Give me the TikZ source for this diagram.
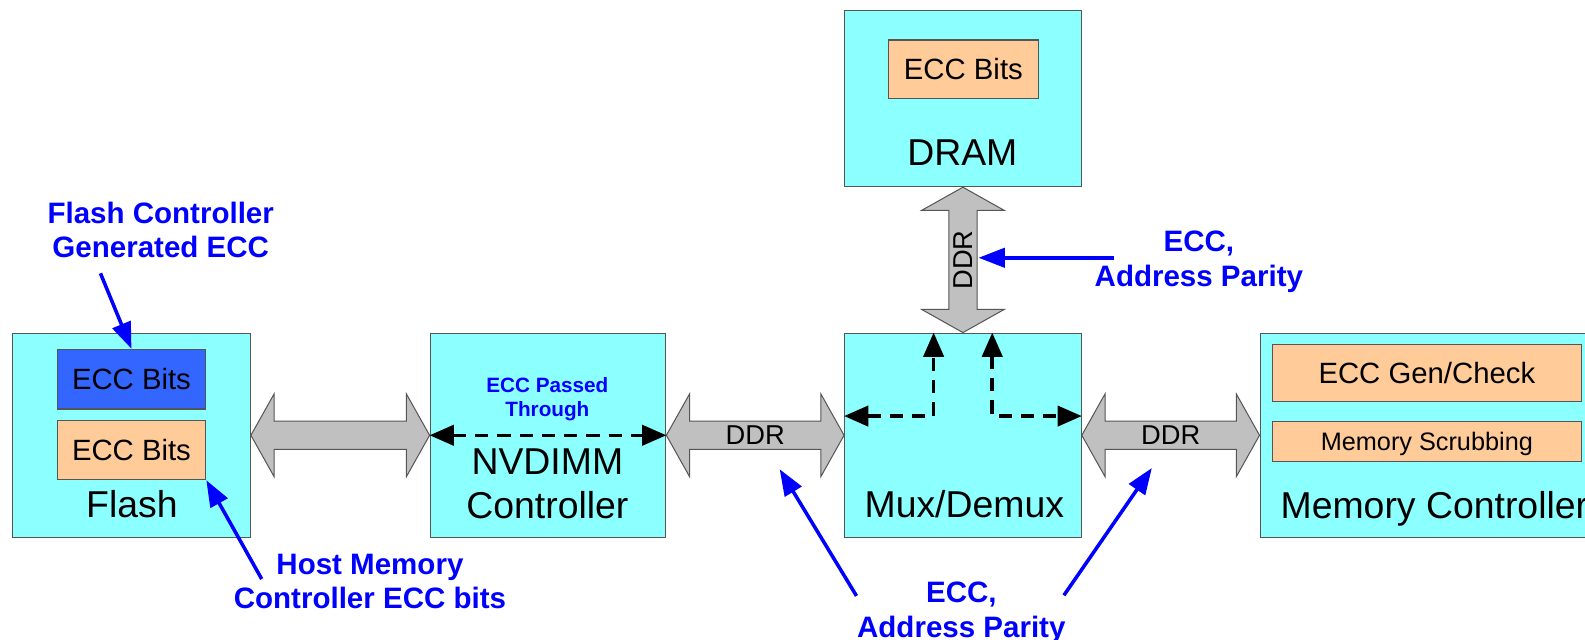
\documentclass[tikz,border=0pt]{standalone}
\usepackage{fontspec}
\setmainfont{Liberation Sans}
\usetikzlibrary{arrows.meta,calc}

\definecolor{boxcyan}{RGB}{140,255,255}
\definecolor{boxedge}{RGB}{85,85,85}
\definecolor{eccblue}{RGB}{51,102,255}
\definecolor{eccpeach}{RGB}{255,204,153}
\definecolor{busgray}{RGB}{192,192,192}
\definecolor{noteblue}{RGB}{0,0,255}

\newcommand\fBig{\fontsize{37}{43}\selectfont}
\newcommand\fMid{\fontsize{29}{34}\selectfont}
\newcommand\fSmall{\fontsize{25}{30}\selectfont}
\newcommand\fBus{\fontsize{27}{32}\selectfont}
\newcommand\fNote{\fontsize{29.2}{34}\selectfont\bfseries}
\newcommand\fTiny{\fontsize{20.5}{24}\selectfont\bfseries}

% horizontal fat double arrow between two nodes
\newcommand\busH[2]{%
  \path[bus] let \p1=(#1.east), \p2=(#2.west) in
    (\x1,\y1) -- (\x1+23pt,\y1+41pt) -- (\x1+23pt,\y1+14pt) --
    (\x2-23pt,\y1+14pt) -- (\x2-23pt,\y1+41pt) -- (\x2,\y1) --
    (\x2-23pt,\y1-41pt) -- (\x2-23pt,\y1-14pt) --
    (\x1+23pt,\y1-14pt) -- (\x1+23pt,\y1-41pt) -- cycle;}
% vertical fat double arrow from the top of #1 to the bottom of #2
\newcommand\busV[2]{%
  \path[bus] let \p1=(#1.north), \p2=(#2.south) in
    (\x1,\y1) -- (\x1-41pt,\y1+23pt) -- (\x1-14pt,\y1+23pt) --
    (\x1-14pt,\y2-23pt) -- (\x1-41pt,\y2-23pt) -- (\x1,\y2) --
    (\x1+41pt,\y2-23pt) -- (\x1+14pt,\y2-23pt) --
    (\x1+14pt,\y1+23pt) -- (\x1+41pt,\y1+23pt) -- cycle;}

\tikzset{
  unit/.style={draw=boxedge, line width=1.2pt, fill=boxcyan, inner sep=0pt,
    anchor=north west},
  part/.style={draw=boxedge, line width=1.1pt, inner sep=0pt, anchor=north west,
    text depth=0pt},
  lbl/.style={inner sep=0pt, text depth=0pt, align=center},
  note/.style={lbl, text=noteblue, font=\fNote},
  bus/.style={draw=boxedge, line width=1pt, fill=busgray, line join=miter},
  dasharrow/.style={line width=3.5pt, dash pattern=on 13pt off 9pt,
    {Triangle[length=24pt,width=20pt]}-{Triangle[length=24pt,width=20pt]}},
  pointer/.style={draw=noteblue, line width=3.5pt,
    -{Triangle[length=26pt,width=19pt]}},
}

\begin{document}
\begin{tikzpicture}[x=1pt,y=-1pt]
  \useasboundingbox (0,0) rectangle (1568,633);

  % main blocks
  \node[unit, minimum width=235pt, minimum height=202pt] (flash) at (12,329) {};
  \node[unit, minimum width=233pt, minimum height=202pt] (nvd) at (425,329) {};
  \node[unit, minimum width=234pt, minimum height=202pt] (mux) at (835,329) {};
  \node[unit, minimum width=234pt, minimum height=174pt] (dram) at (835,10) {};
  \node[unit, minimum width=332pt, minimum height=202pt] (mc) at (1246,329) {};

  % inner parts
  \node[part, fill=eccblue, minimum width=147pt, minimum height=59pt, font=\fMid]
    (eccA) at (56,345) {ECC Bits};
  \node[part, fill=eccpeach, minimum width=147pt, minimum height=59pt, font=\fMid]
    (eccB) at (56,415) {ECC Bits};
  \node[part, fill=eccpeach, minimum width=149pt, minimum height=58pt, font=\fMid]
    (eccD) at (878,39) {ECC Bits};
  \node[part, fill=eccpeach, minimum width=306pt, minimum height=57pt, font=\fMid]
    (eccGen) at (1258,340) {ECC Gen/Check};
  \node[part, fill=eccpeach, minimum width=306pt, minimum height=40pt, font=\fSmall]
    (scrub) at (1258,416) {Memory Scrubbing};

  % block titles
  \node[lbl, font=\fBig] (flashT) at (130.5,499) {Flash};
  \node[lbl, font=\fBig] (nvdT) at (541.5,478.5) {NVDIMM\\Controller};
  \node[lbl, text=noteblue, font=\fTiny] (passT) at (541.5,393) {ECC Passed\\Through};
  \node[lbl, font=\fBig] (muxT) at (954,499) {Mux/Demux};
  \node[lbl, font=\fBig] (dramT) at (952,151) {DRAM};
  \node[lbl, font=\fBig] (mcT) at (1419,500) {Memory Controller};

  % buses
  \busH{flash}{nvd}
  \busH{nvd}{mux}
  \busH{mux}{mc}
  \busV{mux}{dram}
  \node[lbl, font=\fBus] (ddrA) at ($(nvd.east)!0.5!(mux.west)$) {DDR};
  \node[lbl, font=\fBus] (ddrB) at ($(mux.east)!0.5!(mc.west)$) {DDR};
  \node[lbl, font=\fBus, rotate=90] (ddrC) at ($(mux.north)!0.5!(dram.south)$) {DDR};

  % data paths through the controllers
  \draw[dasharrow] (nvd.west) -- (nvd.east);
  \draw[dasharrow] ($(mux.west)+(0pt,19pt)$) -| ($(mux.north)+(-29pt,0pt)$);
  \draw[dasharrow] ($(mux.north)+(29pt,0pt)$) |- ($(mux.east)+(0pt,19pt)$);

  % annotations
  \node[note] (fcN) at (159,227.5) {Flash Controller\\Generated ECC};
  \node[note] (hostN) at (366,575) {Host Memory\\Controller ECC bits};
  \node[note] (dramN) at (1186,256) {ECC,\\Address Parity};
  \node[note] (busN) at (951,603) {ECC,\\Address Parity};

  \coordinate (fcTail) at (99.4,270.4);
  \coordinate (hostTail) at (258.9,572.8);
  \coordinate (dramTail) at (1102,255);
  \coordinate (dramTip) at (968,255);
  \coordinate (busTailA) at (847.3,589.5);
  \coordinate (busTipA) at (771.3,464.2);
  \coordinate (busTailB) at (1052.5,588.9);
  \coordinate (busTipB) at (1139.5,463);

  \draw[pointer] (fcTail) -- (eccA.north);
  \draw[pointer] (hostTail) -- (eccB.south east);
  \draw[pointer] (dramTail) -- (dramTip);
  \draw[pointer] (busTailA) -- (busTipA);
  \draw[pointer] (busTailB) -- (busTipB);
\end{tikzpicture}
\end{document}
